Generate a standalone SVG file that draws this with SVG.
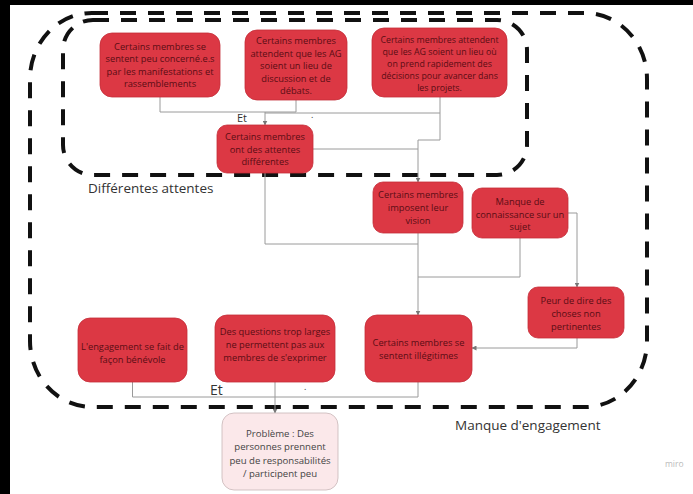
<svg xmlns="http://www.w3.org/2000/svg" width="693" height="494" viewBox="0 0 693 494">
<defs>
<style>
.bg{fill:#ffffff}
.frame{fill:#000000}
.grp{fill:none;stroke:#111111;stroke-width:4;stroke-dasharray:16 12}
.box rect{fill:#dc3844;stroke:#c42d39;stroke-width:0.8}
.box text{font-family:"Open Sans","Noto Sans","Liberation Sans",sans-serif;font-size:9.3px;fill:#5a0d14;text-anchor:middle}
.box.small text{font-size:8.8px}
.prob rect{fill:#fbe8ea;stroke:#c8b6b8;stroke-width:0.8}
.prob text{font-family:"Open Sans","Noto Sans","Liberation Sans",sans-serif;font-size:9.6px;fill:#444444;text-anchor:middle}
.lbl{font-family:"Open Sans","Noto Sans","Liberation Sans",sans-serif;font-size:13.5px;fill:#333333}
.et{font-family:"Open Sans","Noto Sans","Liberation Sans",sans-serif;fill:#333333}
.conn path{fill:none;stroke:#9a9a9a;stroke-width:1}
.conn path.arr{marker-end:url(#ah)}
.miro{font-family:"Open Sans","Noto Sans","Liberation Sans",sans-serif;font-size:8.5px;fill:#bbbbbb}
</style>
<marker id="ah" markerWidth="5" markerHeight="5" refX="4.5" refY="2.5" orient="auto" markerUnits="userSpaceOnUse">
<path d="M0,0 L5,2.5 L0,5 Z" fill="#777777"/>
</marker>
</defs>
<rect class="bg" x="0" y="0" width="693" height="494"/>
<rect class="frame" x="0" y="0" width="10" height="494"/>
<rect class="frame" x="0" y="0" width="693" height="5"/>

<g id="group-manque">
<rect class="grp" x="30" y="13" width="617" height="394" rx="62" ry="66"/>
<text class="lbl" x="455" y="430">Manque d'engagement</text>
</g>
<g id="group-attentes">
<rect class="grp" x="63" y="20" width="464" height="155" rx="30" ry="30"/>
<text class="lbl" x="88" y="193">Différentes attentes</text>
</g>

<g id="connectors" class="conn">
<path d="M160,97 V112 H296"/>
<path d="M296,100 V112"/>
<path d="M440,97 V140 H418 V182" class="arr"/>
<path d="M265,113 H440"/>
<path d="M265,112 V125" class="arr"/>
<path d="M313,149 H418"/>
<path d="M265,173 V244 H418"/>
<path d="M418,233 V315" class="arr"/>
<path d="M520,238 V277 H418"/>
<path d="M568,213 H577 V287" class="arr"/>
<path d="M577,338 V348 H472" class="arr"/>
<path d="M418,382 V397 H132.5 V382"/>
<path d="M275,382 V413" class="arr"/>
</g>
<text class="et" x="237" y="122" font-size="11">Et</text>
<text class="et" x="311" y="118" font-size="9">.</text>
<text class="et" x="210" y="395" font-size="14">Et</text>
<text class="et" x="304" y="390" font-size="9">.</text>

<g id="n1" class="box">
<rect x="100" y="33" width="120" height="64" rx="12"/>
<text x="160" y="50">Certains membres se</text>
<text x="160" y="62.3">sentent peu concerné.e.s</text>
<text x="160" y="74.6">par les manifestations et</text>
<text x="160" y="87">rassemblements</text>
</g>
<g id="n2" class="box">
<rect x="245" y="30" width="102" height="70" rx="12"/>
<text x="296" y="44">Certains membres</text>
<text x="296" y="56.5">attendent que les AG</text>
<text x="296" y="69">soient un lieu de</text>
<text x="296" y="81.5">discussion et de</text>
<text x="296" y="94">débats.</text>
</g>
<g id="n3" class="box small">
<rect x="372" y="28" width="135" height="69" rx="12"/>
<text x="439.5" y="43">Certains membres attendent</text>
<text x="439.5" y="55">que les AG soient un lieu où</text>
<text x="439.5" y="67">on prend rapidement des</text>
<text x="439.5" y="79">décisions pour avancer dans</text>
<text x="439.5" y="91">les projets.</text>
</g>
<g id="n4" class="box">
<rect x="217" y="125" width="96" height="48" rx="10"/>
<text x="265" y="140">Certains membres</text>
<text x="265" y="152.5">ont des attentes</text>
<text x="265" y="165">différentes</text>
</g>
<g id="n5" class="box">
<rect x="373" y="182" width="90" height="51" rx="10"/>
<text x="418" y="198">Certains membres</text>
<text x="418" y="211">imposent leur</text>
<text x="418" y="224">vision</text>
</g>
<g id="n6" class="box">
<rect x="472" y="188" width="96" height="50" rx="10"/>
<text x="520" y="205">Manque de</text>
<text x="520" y="217.5">connaissance sur un</text>
<text x="520" y="230">sujet</text>
</g>
<g id="n7" class="box">
<rect x="528" y="287" width="96" height="51" rx="10"/>
<text x="576" y="304">Peur de dire des</text>
<text x="576" y="317">choses non</text>
<text x="576" y="329.5">pertinentes</text>
</g>
<g id="n8" class="box">
<rect x="365" y="315" width="107" height="67" rx="12"/>
<text x="418.5" y="346">Certains membres se</text>
<text x="418.5" y="359">sentent illégitimes</text>
</g>
<g id="n9" class="box">
<rect x="78" y="318" width="109" height="64" rx="12"/>
<text x="132.5" y="350">L'engagement se fait de</text>
<text x="132.5" y="363">façon bénévole</text>
</g>
<g id="n10" class="box">
<rect x="215" y="315" width="120" height="67" rx="12"/>
<text x="275" y="335">Des questions trop larges</text>
<text x="275" y="348">ne permettent pas aux</text>
<text x="275" y="361">membres de s'exprimer</text>
</g>
<g id="n11" class="prob">
<rect x="222" y="413" width="116" height="77" rx="12"/>
<text x="280" y="437">Problème : Des</text>
<text x="280" y="450.3">personnes prennent</text>
<text x="280" y="463.6">peu de responsabilités</text>
<text x="280" y="477">/ participent peu</text>
</g>
<text class="miro" x="665" y="467">miro</text>
</svg>
